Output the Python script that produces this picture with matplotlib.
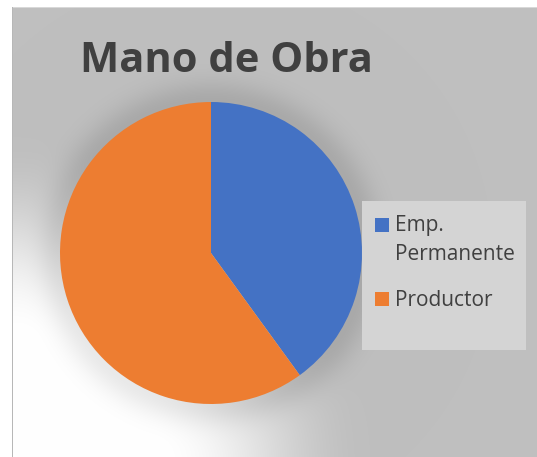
import numpy as np
import matplotlib.pyplot as plt
from matplotlib.patches import Rectangle

# datos
categorias = ["Emp.\nPermanente", "Productor"]
valores = [40, 60]
colores = ["#4472C4", "#ED7D31"]
titulo = "Mano de Obra"

W, H = 537, 457
fig = plt.figure(figsize=(W / 100, H / 100), dpi=100)

# === fondo gris con degradado blanco abajo a la izquierda
cx, cy, r = 211, 253, 151
yy, xx = np.mgrid[0:H, 0:W]
dw = np.hypot(xx - 20, (yy - 470) * 1.05)
t = np.clip((dw - 140) / 210.0, 0, 1)
t = t * t * (3 - 2 * t)
val = 255 - t * 64
d = np.hypot(xx - cx, yy - cy)
halo = 22 * np.exp(-((d - r) / 22.0) ** 2) * (d > r - 5)
val = np.clip(val - halo, 0, 255)
img = np.dstack([val, val, val]) / 255.0
img[:7, :] = 1.0
img[:, :12] = 1.0
img[7, 12:] = 0.85
img[7:, 12] = 0.72

bg = fig.add_axes([0, 0, 1, 1])
bg.imshow(img, extent=(0, W, H, 0), interpolation="bilinear")
bg.set_xlim(0, W)
bg.set_ylim(H, 0)
bg.axis("off")

# caja de la leyenda
bg.add_patch(Rectangle((362, 201), 164, 149, facecolor="#d4d4d4", edgecolor="none"))
bg.add_patch(Rectangle((375, 218), 14, 14, facecolor=colores[0]))
bg.add_patch(Rectangle((375, 292), 14, 14, facecolor=colores[1]))
bg.text(395, 226, "Emp.", fontsize=15, color="#404040", va="center", family="Open Sans")
bg.text(395, 255, "Permanente", fontsize=15, color="#404040", va="center", family="Open Sans")
bg.text(395, 300, "Productor", fontsize=15, color="#404040", va="center", family="Open Sans")

# titulo
bg.text(226, 61, titulo, fontsize=30, fontweight="bold", color="#404040",
        ha="center", va="center", family="Open Sans")

# === pastel
ax = fig.add_axes([(cx - r) / W, (H - cy - r) / H, 2 * r / W, 2 * r / H])
ax.pie(valores, colors=colores, startangle=90, counterclock=False,
       wedgeprops=dict(linewidth=0))
ax.set_xlim(-1, 1)
ax.set_ylim(-1, 1)
ax.axis("off")

fig.savefig("out.png", dpi=100)
